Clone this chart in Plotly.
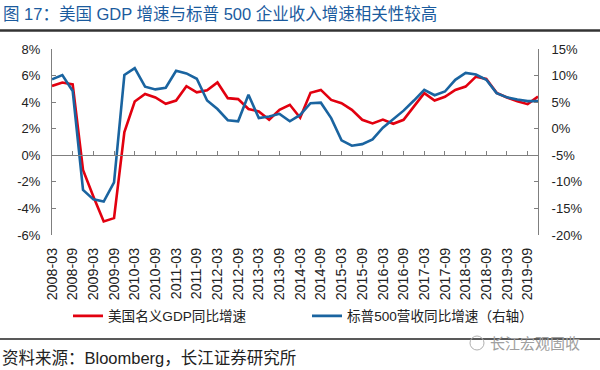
import plotly.graph_objects as go

quarters = [f"{y}-{m}" for y in range(2008, 2020) for m in ("03", "06", "09", "12")]

gdp_yoy = [5.22, 5.48, 5.33, -1.1, -3.1, -4.98, -4.73, 1.75, 4.05, 4.62,
           4.35, 3.88, 4.12, 5.2, 4.74, 4.9, 5.48, 4.3, 4.23, 3.48,
           3.3, 2.68, 3.43, 3.8, 2.83, 4.7, 4.92, 4.17, 3.92, 3.42,
           2.67, 2.4, 2.69, 2.37, 2.67, 3.65, 4.68, 4.12, 4.4, 4.92,
           5.17, 5.92, 5.75, 4.7, 4.35, 4.07, 3.85, 4.42]

sp500_rev_yoy = [9.3, 10.1, 7.1, -11.5, -13.3, -13.7, -10.1, 10.1, 11.4, 7.9,
                 7.4, 7.7, 10.9, 10.4, 9.4, 5.3, 3.7, 1.6, 1.4, 6.4,
                 2.0, 2.3, 2.8, 1.4, 2.6, 4.8, 4.9, 2.0, -2.2, -3.2,
                 -2.9, -2.0, 0.2, 1.8, 3.4, 5.3, 7.3, 6.3, 7.0, 9.2,
                 10.5, 10.2, 9.2, 6.7, 5.9, 5.5, 5.2, 5.2]

left_ticks = [-6, -4, -2, 0, 2, 4, 6, 8]
right_ticks = [-20, -15, -10, -5, 0, 5, 10, 15]

series_names = ["美国名义GDP同比增速", "标普500营收同比增速（右轴）"]
title_text = "图 17：美国 GDP 增速与标普 500 企业收入增速相关性较高"
source_text = "资料来源：Bloomberg，长江证券研究所"
watermark_text = "长江宏观固收"

RED = "#E2000F"
BLUE = "#1A64A0"
AXIS = "#7F7F7F"
FONT = "Liberation Sans, Arial, Noto Sans CJK SC, sans-serif"

idx = list(range(len(quarters)))
tick_idx = idx[::2]
tick_lab = quarters[::2]

fig = go.Figure()
fig.add_trace(go.Scatter(x=idx, y=gdp_yoy, mode="lines", name=series_names[0],
                         line=dict(color=RED, width=2.6), xaxis="x", yaxis="y"))
fig.add_trace(go.Scatter(x=idx, y=sp500_rev_yoy, mode="lines", name=series_names[1],
                         line=dict(color=BLUE, width=2.6), xaxis="x2", yaxis="y2"))

L, R, T, B = 52, 62, 49, 135
W, H = 600 - L - R, 370 - T - B

def px(xp):
    return (xp - L) / W

def py(yp):
    return (370 - B - yp) / H

fig.update_layout(
    width=600, height=370,
    margin=dict(l=L, r=R, t=T, b=B, pad=0),
    paper_bgcolor="white", plot_bgcolor="white",
    font=dict(family=FONT, size=13, color="#222"),
    showlegend=True,
    legend=dict(orientation="h", x=px(68), xanchor="left", y=py(316), yanchor="middle",
                entrywidth=194, entrywidthmode="pixels", font=dict(family=FONT, size=13.6, color="#222"),
                bgcolor="rgba(0,0,0,0)", itemwidth=30),
    xaxis=dict(range=[0, len(quarters) - 1], tickmode="array", tickvals=tick_idx, ticktext=tick_lab,
               tickangle=-90, showline=False, ticks="", showgrid=False, zeroline=False,
               tickfont=dict(size=14.3, color="#222"), ticklabelstandoff=9),
    xaxis2=dict(range=[0, len(quarters) - 1], overlaying="x", anchor="free",
                position=(0 - left_ticks[0]) / (left_ticks[-1] - left_ticks[0]),
                tickmode="array", tickvals=tick_idx, showticklabels=False,
                showline=True, linecolor=AXIS, linewidth=1, ticks="inside", ticklen=4,
                tickcolor=AXIS, showgrid=False, zeroline=False),
    yaxis=dict(range=[left_ticks[0], left_ticks[-1]], tickmode="array", tickvals=left_ticks,
               ticktext=[f"{v}%" for v in left_ticks], showline=True, linecolor=AXIS, linewidth=1,
               ticks="inside", ticklen=4, tickcolor=AXIS, showgrid=False, zeroline=False,
               tickfont=dict(size=13, color="#222"), ticklabelstandoff=8),
    yaxis2=dict(range=[right_ticks[0], right_ticks[-1]], overlaying="y", side="right", anchor="x",
                tickmode="array", tickvals=right_ticks, ticktext=[f"{v}%" for v in right_ticks],
                showline=True, linecolor=AXIS, linewidth=1, ticks="inside", ticklen=4, tickcolor=AXIS,
                showgrid=False, zeroline=False, tickfont=dict(size=13, color="#222"),
                ticklabelstandoff=10),
)

fig.add_annotation(text=title_text, xref="paper", yref="paper", x=px(1), y=py(14),
                   xanchor="left", yanchor="middle", showarrow=False,
                   font=dict(family=FONT, size=16.5, color="#1B5B9E"))
fig.add_annotation(text=source_text, xref="paper", yref="paper", x=px(0), y=py(358),
                   xanchor="left", yanchor="middle", showarrow=False,
                   font=dict(family=FONT, size=16.5, color="#222"))
fig.add_annotation(text=watermark_text, xref="paper", yref="paper", x=px(582), y=py(343),
                   xanchor="right", yanchor="middle", showarrow=False,
                   font=dict(family=FONT, size=15, color="#A0A0A0"))
fig.add_shape(type="line", xref="paper", yref="paper", x0=px(0), x1=px(600), y0=py(30.5), y1=py(30.5),
              line=dict(color="#333", width=2.5))
fig.add_shape(type="line", xref="paper", yref="paper", x0=px(0), x1=px(600), y0=py(339), y1=py(339),
              line=dict(color="#222", width=1.5))
fig.add_shape(type="circle", xref="paper", yref="paper", x0=px(470), x1=px(484), y0=py(350), y1=py(336),
              line=dict(color="#B0B0B0", width=1))

fig.write_html("out.html", config={"displayModeBar": False},
               post_script="document.body.style.margin='0';document.body.style.overflow='hidden';")
